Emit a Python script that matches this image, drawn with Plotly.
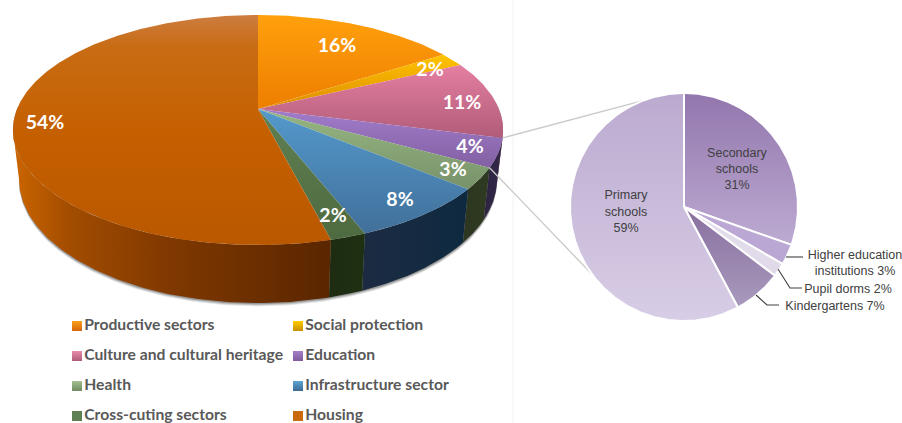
import numpy as np
import plotly.graph_objects as go

# ---- data ----
categories = ["Productive sectors", "Social protection", "Culture and cultural heritage", "Education",
              "Health", "Infrastructure sector", "Cross-cuting sectors", "Housing"]
values = [16, 2, 11, 4, 3, 8, 2, 54]
sub_categories = ["Secondary<br>schools<br>31%", "Higher education<br>institutions 3%", "Pupil dorms 2%",
                  "Kindergartens 7%", "Primary<br>schools<br>59%"]
sub_values = [31, 3, 2, 7, 59]

# ---- style ----
top_colors = [("#ffa00c", "#ee7e00"), ("#ffc400", "#dd8a00"), ("#e57fa2", "#b05c78"), ("#a27ccb", "#8260a2"),
              ("#96b682", "#78926a"), ("#5499cc", "#41709a"), ("#5f8052", "#4e6a40"), ("#cd7d40", "#ba5800")]
side_colors = [("#9a5a00", "#9a5a00"), ("#8a6a00", "#8a6a00"), ("#6d3346", "#5a2a3a"), ("#35284a", "#2c2240"),
               ("#2f3a22", "#2c3620"), ("#0e2a40", "#1c2b42"), ("#1f3012", "#1e2c12"), None]
housing_side = [[0, "#cc6600"], [0.18, "#a24c00"], [0.5, "#7f3800"], [1, "#5a2600"]]
sub_colors = [("#9276ad", "#bdabd2"), ("#bda9d6", "#baa6d2"), ("#e4deec", "#e0d9e9"),
              ("#886f9f", "#a99abd"), ("#bbaacf", "#d8cde6")]
legend_colors = [("#f7a11c", "#d9660a"), ("#ffcc00", "#c79000"), ("#e88cab", "#b05c78"), ("#a67fc9", "#7f5c9e"),
                 ("#a4c090", "#6f8a60"), ("#5fa4d6", "#3d6b94"), ("#5f8052", "#5f8052"), ("#c96a10", "#c96a10")]
GREY = "#595959"

CX, CY, A, B, K, D, SX = 258, 109, 241, 111.2, 0.1826, 47.4, 0.975
RX2, RY2, R2 = 684, 207, 114


def top_point(theta):
    t = np.radians(theta)
    w = 1 + K * np.cos(t)
    return CX + A * np.sin(t) / w, CY - B * np.cos(t) / w


def bottom_point(theta):
    x, y = top_point(theta)
    w = 1 + K * np.cos(np.radians(theta))
    return CX + (x - CX) * SX, y + D / w


def sub_point(theta, r=R2):
    t = np.radians(theta)
    return RX2 + r * np.sin(t), RY2 - r * np.cos(t)


fig = go.Figure()


def poly(x, y, scale, kind="vertical", line=None):
    if kind == "vertical":  # y axis runs downwards: first colour goes on top of the shape
        scale = [[1 - s, c] for s, c in scale][::-1]
    fig.add_trace(go.Scatter(
        x=np.asarray(x), y=np.asarray(y), mode="lines", fill="toself", hoverinfo="skip",
        line=line or dict(width=0, color="rgba(0,0,0,0)"),
        fillgradient=dict(type=kind, colorscale=scale)))


edges = np.concatenate([[0], np.cumsum(values)]) * 3.6
sub_edges = np.concatenate([[0], np.cumsum(sub_values)]) / sum(sub_values) * 360

# faint panel separator
fig.add_trace(go.Scatter(x=[513, 513], y=[0, 423], mode="lines", line=dict(color="#f3f3f3", width=1), hoverinfo="skip"))

# soft shadow under the wall
VIS0, VIS1 = 100.5, 259.5
arc = np.linspace(VIS0 - 12, VIS1 + 12, 200)
for off, alpha in [(3.2, 0.14), (2.2, 0.2), (1.2, 0.3)]:
    bx, by = bottom_point(arc)
    tx, ty = top_point(arc[::-1])
    fig.add_trace(go.Scatter(x=np.r_[bx, tx], y=np.r_[by + off, ty], mode="lines", fill="toself",
                             line=dict(width=0), fillcolor=f"rgba(60,60,60,{alpha})", hoverinfo="skip"))

# side walls
for i in range(len(values)):
    a0, a1 = max(edges[i], VIS0), min(edges[i + 1], VIS1)
    if a1 <= a0:
        continue
    th = np.linspace(a0, a1, 120)
    tx, ty = top_point(th)
    bx, by = bottom_point(th[::-1])
    if side_colors[i] is None:
        poly(np.r_[tx, bx], np.r_[ty, by], housing_side, "horizontal")
    else:
        c0, c1 = side_colors[i]
        poly(np.r_[tx, bx], np.r_[ty, by], [[0, c1], [1, c0]], "horizontal")

# top surface
for i in range(len(values)):
    th = np.linspace(edges[i], edges[i + 1], max(8, int(values[i] * 8)))
    x, y = top_point(th)
    c0, c1 = top_colors[i]
    scale = [[0, c0], [1, c1]]
    if categories[i] == "Housing":
        scale = [[0, c0], [0.14, "#c86c14"], [0.5, "#c56000"], [1, c1]]
    poly(np.r_[CX, x, CX], np.r_[CY, y, CY], scale)

# connectors to the breakdown pie
edu = categories.index("Education")
for a, b in [(edges[edu], -20.6), (edges[edu + 1], 234)]:
    x0, y0 = top_point(a)
    x1, y1 = sub_point(b)
    fig.add_trace(go.Scatter(x=[x0, x1], y=[y0, y1], mode="lines", line=dict(color="#c9c9c9", width=1.3), hoverinfo="skip"))

# breakdown pie
for i in range(len(sub_values)):
    th = np.linspace(sub_edges[i], sub_edges[i + 1], max(8, int(sub_values[i] * 6)))
    x, y = sub_point(th)
    c0, c1 = sub_colors[i]
    poly(np.r_[RX2, x, RX2], np.r_[RY2, y, RY2], [[0, c0], [1, c1]], line=dict(color="white", width=2))

# leader lines
for lx, ly in [([786, 803], [257, 257]), ([778, 790, 802], [269, 288, 288]), ([756, 767, 779], [295, 305, 305])]:
    fig.add_trace(go.Scatter(x=lx, y=ly, mode="lines", line=dict(color="#404040", width=1.1), hoverinfo="skip"))

# percentage labels on the main pie
pct_x = [337, 430, 462, 470, 453, 400, 333, 45]
pct_y = [47, 71, 104, 148, 171, 201, 217, 124]
fig.add_trace(go.Scatter(x=pct_x, y=pct_y, mode="text", text=[f"{v}%" for v in values], hoverinfo="skip",
                         textfont=dict(family="Lato", size=19.5, color="white", weight=700)))

# labels on the breakdown pie
sub_x = [737, 855, 848, 835, 626]
sub_y = [170, 264, 290, 307, 212.5]
fig.add_trace(go.Scatter(x=sub_x, y=sub_y, mode="text", text=sub_categories, hoverinfo="skip",
                         textfont=dict(family="Liberation Sans", size=12.5, color="#404040")))

# legend
col_x = [77, 298]
row_y = [326, 356, 386, 416]
for i, name in enumerate(categories):
    mx, my = col_x[i % 2], row_y[i // 2]
    c0, c1 = legend_colors[i]
    fig.add_trace(go.Scatter(
        x=[mx], y=[my], mode="markers+text", text=[name], textposition="middle right", hoverinfo="skip",
        marker=dict(symbol="square", size=10, color=c0, gradient=dict(type="vertical", color=c1), line=dict(width=0)),
        textfont=dict(family="Lato", size=15.7, color=GREY, weight=700)))

fig.update_layout(
    width=902, height=423, margin=dict(l=0, r=0, t=0, b=0), showlegend=False,
    paper_bgcolor="white", plot_bgcolor="white",
    xaxis=dict(range=[0, 902], visible=False, fixedrange=True),
    yaxis=dict(range=[423, 0], visible=False, fixedrange=True),
)
fig.write_html("out.html", config=dict(displayModeBar=False),
               post_script="document.body.style.margin='0';document.body.style.overflow='hidden';")
